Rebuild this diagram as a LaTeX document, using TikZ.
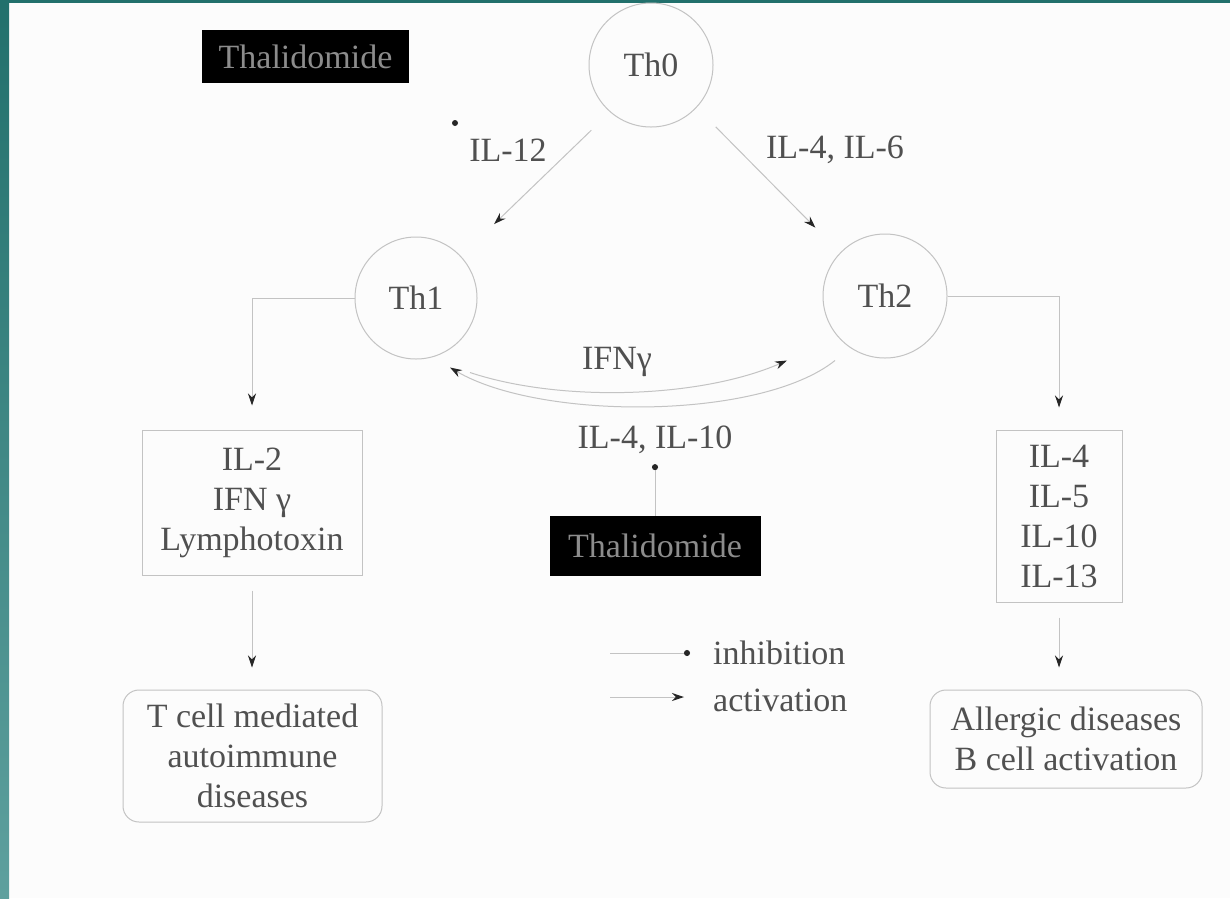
\documentclass[tikz,border=0pt]{standalone}
\usepackage{fontspec}
\setmainfont{Liberation Serif}
\usetikzlibrary{arrows.meta,calc}
\definecolor{tealtop}{RGB}{34,112,108}
\definecolor{tealbot}{RGB}{94,160,158}
\definecolor{linegray}{RGB}{195,195,195}
\definecolor{txtgray}{RGB}{80,80,80}
\begin{document}
\begin{tikzpicture}[x=1pt,y=-1pt,
  every node/.style={font=\fontsize{34}{40}\selectfont, text=txtgray},
  cell/.style={circle, draw=linegray, line width=1pt, minimum size=124pt, inner sep=0pt},
  blk/.style={fill=black, text=white!55!black, minimum width=207pt, minimum height=53pt, inner sep=0pt},
  lbox/.style={draw=linegray, line width=1pt, align=center, inner sep=0pt},
  rbox/.style={lbox, rounded corners=16pt},
  conn/.style={draw=linegray, line width=1pt},
  act/.style={conn, -{Stealth[length=12pt,width=8pt,color=black!85]}},
  inh/.style={conn, -{Circle[length=6pt,color=black!85]}},
  lbl/.style={inner sep=0pt}
]
\useasboundingbox (0,0) rectangle (1230,898);
\fill[white!99!black] (0,0) rectangle (1230,898);
\shade[top color=tealtop, bottom color=tealbot] (0,0) rectangle (9,898);
\fill[tealtop] (0,0) rectangle (1230,3);

% nodes
\node[blk] (thal1) at (305.5,56.5) {Thalidomide};
\node[cell] (th0) at (651,65) {Th0};
\node[cell, minimum size=122pt] (th1) at (416,298) {Th1};
\node[cell] (th2) at (885,296) {Th2};
\node[lbl] (il12) at (508,150) {IL-12};
\node[circle, fill=black!85, inner sep=0pt, minimum size=6pt] (il12dot) at (455,123) {};
\node[lbl] (il46) at (835,150) {IL-4, IL-6};
\node[lbl] (ifng) at (617,362) {IFNγ};
\node[lbl] (il410) at (655,440) {IL-4, IL-10};
\node[blk, minimum width=211pt, minimum height=60pt] (thal2) at (655,546) {Thalidomide};
\node[lbox, minimum width=220pt, minimum height=145pt] (cyt1) at (252,502.5) {IL-2\\IFN γ\\Lymphotoxin};
\node[lbox, minimum width=126pt, minimum height=172pt] (cyt2) at (1059,516) {IL-4\\IL-5\\IL-10\\IL-13};
\node[rbox, minimum width=259pt, minimum height=132pt] (dis1) at (252.5,756) {T cell mediated\\autoimmune\\diseases};
\node[rbox, minimum width=272pt, minimum height=98pt] (dis2) at (1066,739) {Allergic diseases\\B cell activation};

% connectors
\draw[act, shorten <=26pt, shorten >=46pt] (th0.229) -- (th1.43);
\draw[act, shorten <=27pt, shorten >=35pt] (th0.317) -- (th2.136);
\draw[act, shorten >=24pt] (th1.west) -| (cyt1.north);
\draw[act, shorten >=22pt] (th2.east) -| (cyt2.north);
\draw[act, shorten <=15pt, shorten >=22pt] (cyt1.south) -- (cyt1.south |- dis1.north);
\draw[act, shorten <=15pt, shorten >=22pt] (cyt2.south) -- (cyt2.south |- dis2.north);
\draw[act] ($(th1.south)+(54,13)$) .. controls +(90,30) and +(-87,38) .. ($(th2.south)+(-98,2)$);
\draw[act] ($(th2.south)+(-50,2)$) .. controls +(-75,60) and +(90,53) .. ($(th1.south)+(34,8)$);
\draw[inh, shorten >=10pt] (thal2.north) -- (il410.south);

% legend
\coordinate (l1a) at (610,653);
\coordinate (l1b) at (690,653);
\coordinate (l2a) at (610,697);
\coordinate (l2b) at (684,697);
\node[lbl, anchor=west] (linh) at (713,653) {inhibition};
\node[lbl, anchor=west] (lact) at (713,700) {activation};
\draw[inh] (l1a) -- (l1b);
\draw[act] (l2a) -- (l2b);
\end{tikzpicture}
\end{document}
